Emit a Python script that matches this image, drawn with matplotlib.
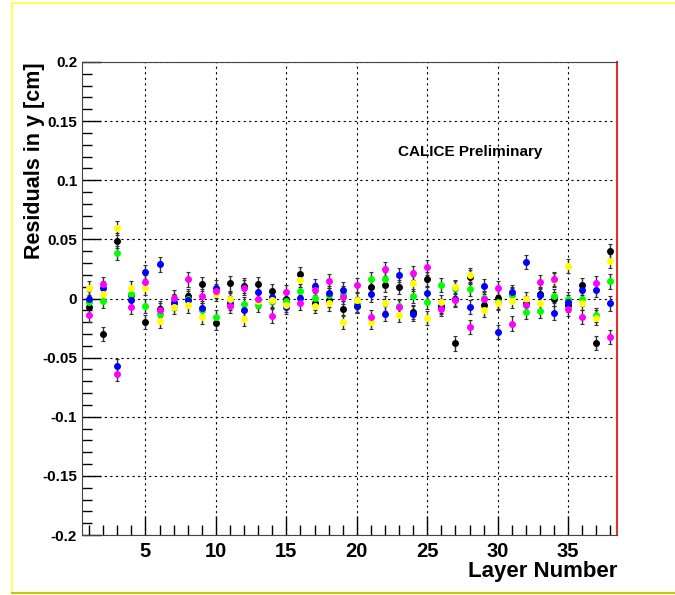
import matplotlib
matplotlib.use("Agg")
import matplotlib.pyplot as plt
from matplotlib.patches import Rectangle
from matplotlib.ticker import MultipleLocator

plt.rcParams['font.family'] = ['Liberation Sans', 'DejaVu Sans']
plt.rcParams['font.weight'] = 'bold'

layers = list(range(1, 39))

black = [-0.007, -0.030, 0.049, 0.003, -0.020, -0.0085, -0.003, 0.002, 0.012, -0.021,
         0.0127, 0.011, 0.012, 0.0065, -0.0006, 0.021, -0.0034, -0.0014, -0.0085, -0.006,
         0.0099, 0.0113, 0.0099, -0.0113, 0.0161, -0.0065, -0.038, 0.0184, -0.0051, 0.0008,
         0.004, -0.004, 0.0037, -0.0003, -0.0051, 0.0113, -0.0373, 0.0398]
blue = [0.0, 0.009, -0.057, -0.0014, 0.0226, 0.0288, -0.0034, -0.0014, -0.0079, 0.0093,
        -0.004, -0.0099, 0.0051, 0.0014, -0.007, 0.0006, 0.0105, 0.0048, 0.0076, -0.0062,
        0.0034, -0.0127, 0.0201, -0.0127, 0.0048, -0.007, 0.0, -0.007, 0.0102, -0.0283,
        0.0056, 0.0311, 0.003, -0.0121, -0.003, 0.0071, 0.0071, -0.0042]
magenta = [-0.014, 0.0119, -0.0636, -0.007, 0.0141, -0.0099, 0.0008, 0.0161, 0.002, 0.0065,
           -0.0065, 0.0093, -0.0006, -0.0147, 0.0056, -0.0034, 0.0071, 0.015, 0.0014, 0.0113,
           -0.0155, 0.0251, -0.0071, 0.0218, 0.0263, -0.0085, -0.0014, -0.024, -0.0006, 0.009,
           -0.0212, -0.0056, 0.0141, 0.0167, -0.009, -0.0155, 0.0133, -0.0325]
yellow = [0.0085, 0.0042, 0.0599, 0.009, 0.0093, -0.0192, -0.007, -0.0059, -0.0155, 0.0042,
          -0.0008, -0.017, -0.002, -0.0014, -0.0057, 0.0155, -0.0065, -0.0042, -0.0198, -0.0014,
          -0.0198, -0.0042, -0.0136, 0.0127, -0.0164, -0.0028, 0.0099, 0.0195, -0.0093, -0.0034,
          -0.002, -0.0008, -0.0037, 0.0155, 0.0274, -0.0034, -0.0161, 0.0316]
green = [-0.0028, -0.002, 0.0387, 0.0042, -0.0065, -0.0127, -0.002, 0.0, -0.010, -0.0155,
         -0.001, -0.005, -0.0051, -0.002, -0.0023, 0.0065, 0.0006, 0.0028, 0.0042, -0.005,
         0.0161, 0.0164, -0.0065, 0.002, -0.0028, 0.0113, 0.0085, 0.0082, 0.0006, -0.0028,
         0.0028, -0.0113, -0.0105, 0.0023, -0.0008, 0.0, -0.0141, 0.0144]
err = 0.006

fig = plt.figure(figsize=(6.75, 5.95), dpi=100)
ax = fig.add_axes([0.1215, 0.1008, 0.7933, 0.795])

series = [(black, 'black'), (green, '#00ff00'), (blue, '#0000ff'),
          (yellow, '#ffff00'), (magenta, '#ff00ff')]
for vals, col in series:
    ax.errorbar(layers, vals, yerr=err, fmt='o', ms=4, mfc=col, mec=col,
                ecolor='#333333', elinewidth=1, capsize=1.5, capthick=0.8, zorder=3)

ax.set_xlim(0.5, 38.5)
ax.set_ylim(-0.2, 0.2)
ax.xaxis.set_major_locator(MultipleLocator(5))
ax.xaxis.set_minor_locator(MultipleLocator(1))
ax.yaxis.set_minor_locator(MultipleLocator(0.01))
ax.set_yticks([-0.2, -0.15, -0.1, -0.05, 0, 0.05, 0.1, 0.15, 0.2])
ax.set_yticklabels(['-0.2', '-0.15', '-0.1', '-0.05', '0', '0.05', '0.1', '0.15', '0.2'])
ax.tick_params(which='both', direction='in', top=False, right=False)
ax.tick_params(axis='y', labelsize=11)
ax.tick_params(axis='x', labelsize=14.5, pad=5)
ax.tick_params(which='major', length=14, width=1)
ax.tick_params(which='minor', length=7, width=1)
ax.grid(True, which='major', linestyle=(0, (2, 3)), color='black', linewidth=0.8)

for s in ['left', 'bottom', 'top']:
    ax.spines[s].set_color('#444444')
ax.spines['right'].set_color('#e03030')
ax.spines['right'].set_linewidth(1.5)

# ROOT-style title placement: y title overlaps the tick label column
ax.text(-0.088, 1.0, 'Residuals in y [cm]', transform=ax.transAxes, rotation=90,
        fontsize=15.5, fontweight='bold', ha='center', va='top')
ax.set_xlabel('Layer Number', fontsize=16, fontweight='bold', loc='right', labelpad=0)
ax.text(0.724, 0.81, 'CALICE Preliminary', transform=ax.transAxes, fontsize=11,
        fontweight='bold', ha='center', va='center')

# canvas frame
fig.add_artist(Rectangle((12 / 675, 2 / 595), 1.0, 590 / 595, transform=fig.transFigure,
                         fill=False, edgecolor='#ffff60', linewidth=1.5))
fig.add_artist(plt.Line2D([12 / 675, 1.0], [2 / 595, 2 / 595], transform=fig.transFigure,
                          color='#c8c800', linewidth=1.5))

fig.savefig('out.png', dpi=100)
